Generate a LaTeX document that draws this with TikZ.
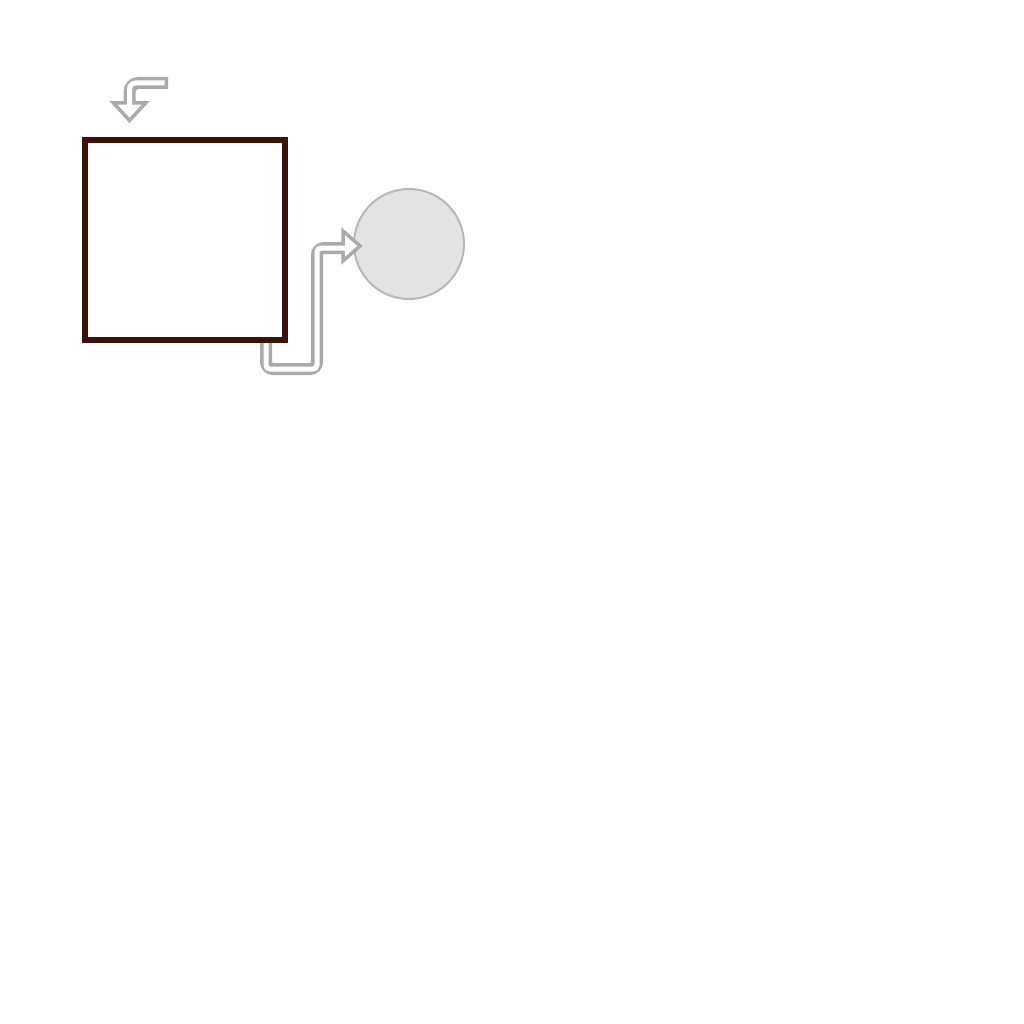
\documentclass[tikz,border=0pt]{standalone}
\usetikzlibrary{calc}
\definecolor{boxbrown}{HTML}{3B1205}
\definecolor{pipegray}{HTML}{AAAAAA}
\definecolor{ballfill}{HTML}{E3E3E3}
\definecolor{ballline}{HTML}{B8B8B8}
\begin{document}
\begin{tikzpicture}[x=1pt,y=-1pt,
  pipeout/.style={draw=pipegray, line width=12pt, rounded corners=#1},
  pipein/.style={draw=white, line width=5pt, rounded corners=#1},
  headshape/.style={draw=pipegray, fill=white, line width=3.5pt, line join=miter},
  boxnode/.style={draw=boxbrown, line width=6pt, minimum size=200pt, inner sep=0pt, outer sep=0pt, fill=white},
  ballnode/.style={circle, draw=ballline, fill=ballfill, line width=2pt, minimum size=110pt, inner sep=0pt, outer sep=0pt}]
\useasboundingbox (0,0) rectangle (1024,1024);
% arrow 2 (drawn under the box)
\node[ballnode] (ball) at (409,244) {};
\coordinate (s2) at (266,343);
\coordinate (t2) at (343,248);
\draw[pipeout=7pt] (s2) -- (266,369) -- (317,369) -- (317,248) -- (t2);
\draw[headshape] (343,231) -- (360,246) -- (343,261) -- cycle;
\draw[pipein=4pt] (s2) -- (266,369) -- (317,369) -- (317,248) -- (347,248);
\node[boxnode] (sq) at (185,240) {};
% arrow 1
\coordinate (s1) at (168,83);
\coordinate (t1) at (129.5,104);
\draw[pipeout=9pt] (s1) -- (129.5,83) -- (t1);
\draw[headshape] (113.5,103) -- (145.5,103) -- (129.5,120.5) -- cycle;
\draw[pipein=6pt] (164.5,83) -- (129.5,83) -- (129.5,107);
\end{tikzpicture}
\end{document}
